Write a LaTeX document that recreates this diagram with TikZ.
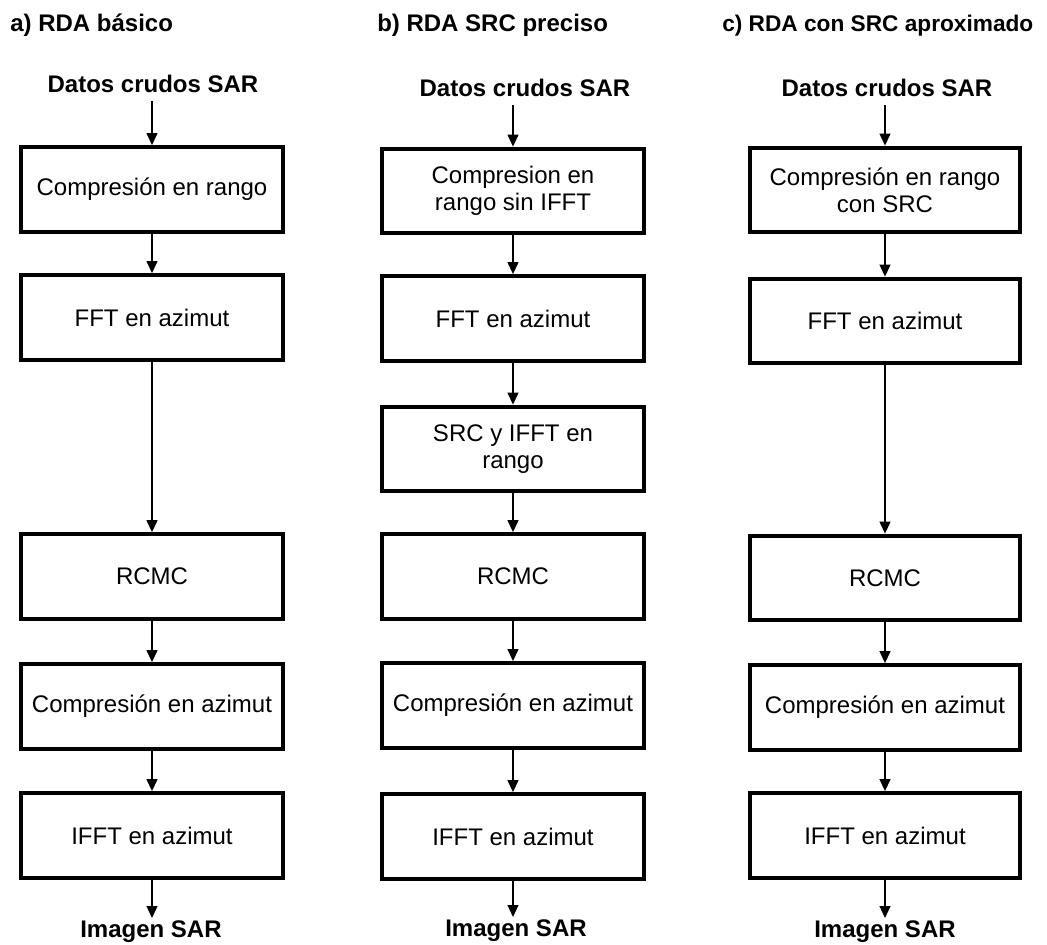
\documentclass[tikz,border=0pt]{standalone}
\usepackage{fontspec}
\setmainfont{Liberation Sans}
\usetikzlibrary{arrows.meta}
\begin{document}
\begin{tikzpicture}[x=0.75pt,y=-0.75pt,
  procbox/.style={draw=black, line width=3pt, rectangle, minimum height=63.5pt,
    inner sep=0pt, align=center, font=\fontsize{18pt}{20.5pt}\selectfont},
  boxa/.style={procbox, minimum width=196pt},
  boxb/.style={procbox, minimum width=196.5pt},
  boxc/.style={procbox, minimum width=203pt},
  endlabel/.style={inner sep=0pt, text height=13pt, text depth=0pt, anchor=base,
    font=\bfseries\fontsize{18pt}{20.5pt}\selectfont},
  coltitle/.style={inner sep=0pt, anchor=base west,
    font=\bfseries\fontsize{18pt}{20.5pt}\selectfont},
  arr/.style={-{Triangle[length=9pt,width=8pt]}, line width=1.5pt}
]
\useasboundingbox (0,0) rectangle (1047,945);

% titles
\node[coltitle] (ta) at (10,32) {a) RDA básico};
\node[coltitle] (tb) at (377,32) {b) RDA SRC preciso};
\node[coltitle, font=\bfseries\fontsize{17pt}{20pt}\selectfont] (tc) at (722,32) {c) RDA con SRC aproximado};

% column a
\node[endlabel] (da) at (153,93) {Datos crudos SAR};
\node[boxa] (a1) at (152,189.5) {Compresión en rango};
\node[boxa] (a2) at (152,317.5) {FFT en azimut};
\node[boxa] (a3) at (152,576.5) {RCMC};
\node[boxa] (a4) at (152,706.5) {Compresión en azimut};
\node[boxa] (a5) at (152,835.5) {IFFT en azimut};
\node[endlabel] (ia) at (151,937) {Imagen SAR};

% column b
\node[endlabel] (db) at (525,97) {Datos crudos SAR};
\node[boxb] (b1) at (513,191) {Compresion en\\rango sin IFFT};
\node[boxb] (b2) at (513,318.5) {FFT en azimut};
\node[boxb] (b3) at (513,449) {SRC y IFFT en\\rango};
\node[boxb] (b4) at (513,576.5) {RCMC};
\node[boxb] (b5) at (513,705.5) {Compresión en azimut};
\node[boxb] (b6) at (513,836.5) {IFFT en azimut};
\node[endlabel] (ib) at (516,936) {Imagen SAR};

% column c
\node[endlabel] (dc) at (887,97) {Datos crudos SAR};
\node[boxc] (c1) at (885,190) {Compresión en rango\\con SRC};
\node[boxc] (c2) at (885,321) {FFT en azimut};
\node[boxc] (c3) at (885,578) {RCMC};
\node[boxc] (c4) at (885,707.5) {Compresión en azimut};
\node[boxc] (c5) at (885,835.5) {IFFT en azimut};
\node[endlabel] (ic) at (885,937) {Imagen SAR};

% connectors a
\draw[arr, shorten <=6pt] (da.south -| a1.north) -- (a1.north);
\draw[arr] (a1) -- (a2);
\draw[arr] (a2) -- (a3);
\draw[arr] (a3) -- (a4);
\draw[arr] (a4) -- (a5);
\draw[arr, shorten >=1pt] (a5.south) -- (a5.south |- ia.north);

% connectors b
\draw[arr, shorten <=6pt] (db.south -| b1.north) -- (b1.north);
\draw[arr] (b1) -- (b2);
\draw[arr] (b2) -- (b3);
\draw[arr] (b3) -- (b4);
\draw[arr] (b4) -- (b5);
\draw[arr] (b5) -- (b6);
\draw[arr, shorten >=1pt] (b6.south) -- (b6.south |- ib.north);

% connectors c
\draw[arr, shorten <=6pt] (dc.south -| c1.north) -- (c1.north);
\draw[arr] (c1) -- (c2);
\draw[arr] (c2) -- (c3);
\draw[arr] (c3) -- (c4);
\draw[arr] (c4) -- (c5);
\draw[arr, shorten >=1pt] (c5.south) -- (c5.south |- ic.north);
\end{tikzpicture}
\end{document}
